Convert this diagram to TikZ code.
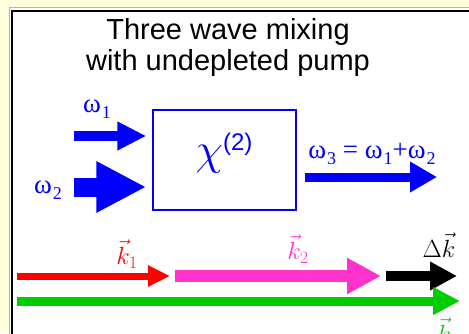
\documentclass[tikz,border=0pt]{standalone}
\usepackage{fontspec}
\setmainfont{Liberation Sans}
\newfontfamily\greekfont{Liberation Serif}
\usetikzlibrary{arrows.meta}

\definecolor{paleyellow}{RGB}{255,255,221}
\definecolor{pumpblue}{RGB}{0,0,255}
\definecolor{kred}{RGB}{255,0,0}
\definecolor{kpink}{RGB}{255,51,204}
\definecolor{kgreen}{RGB}{0,204,0}

\newcommand{\om}[1]{\greekfont ω\kern1pt\raisebox{-6pt}{\fontsize{18}{18}\selectfont #1}}
\newcommand{\titlesize}{\fontsize{29}{31}\selectfont}

\tikzset{
  beam/.style={line cap=butt},
  wlabel/.style={text=pumpblue, font=\fontsize{27}{28}\selectfont, inner sep=0pt},
  klabel/.style={font=\fontsize{24}{26}\selectfont, inner sep=0pt},
}

\begin{document}
\begin{tikzpicture}[x=1pt, y=-1pt]
  \useasboundingbox (0,0) rectangle (469,333);
  \clip (0,0) rectangle (469,333);
  \fill[paleyellow] (0,0) rectangle (469,333);
  \draw[gray!60, line width=1pt, fill=white] (9,7.5) rectangle (500,360);
  \draw[line width=2pt] (12,10.5) rectangle (500,360);
  % title
  \node[anchor=base, font=\titlesize] (title1) at (228,39) {Three wave mixing};
  \node[anchor=base, font=\titlesize] (title2) at (228,70) {with undepleted pump};
  % crystal
  \node[draw=pumpblue, line width=1.5pt, minimum width=143pt, minimum height=100pt, inner sep=0pt] (chi) at (224.5,160) {};
  \node[text=pumpblue, font=\fontsize{24}{26}\selectfont, inner sep=0pt] (chilbl) at (224,153)
    {\scalebox{1.8}{$\chi$}\raisebox{14pt}{(2)}};
  % input and output beams
  \coordinate (w1in) at (74,136);
  \coordinate (w2in) at (74,187);
  \coordinate (w3out) at (437,177);
  \draw[beam, pumpblue, line width=10pt, -{Triangle[length=29pt,width=27pt]}, shorten >=6pt] (w1in) -- (w1in -| chi.west);
  \draw[beam, pumpblue, line width=19pt, -{Triangle[length=50pt,width=48pt]}, shorten >=6pt] (w2in) -- (w2in -| chi.west);
  \draw[beam, pumpblue, line width=9pt, -{Triangle[length=27pt,width=29pt]}, shorten <=8pt] (w3out -| chi.east) -- (w3out);
  \node[wlabel] (w1lbl) at (97,109) {\om{1}};
  \node[wlabel] (w2lbl) at (48,190) {\om{2}};
  \node[wlabel] (w3lbl) at (372,154) {\om{3} = \om{1}+\om{2}};
  % wave vectors
  \coordinate (k1s) at (17,276);
  \coordinate (k1e) at (170,276);
  \coordinate (k2s) at (175,276);
  \coordinate (k2e) at (381,276);
  \coordinate (dks) at (386,276);
  \coordinate (dke) at (457,276);
  \coordinate (k3s) at (17,301);
  \coordinate (k3e) at (460,301);
  \draw[beam, kred, line width=7pt, -{Triangle[length=22pt,width=20pt]}] (k1s) -- (k1e);
  \draw[beam, kpink, line width=12pt, -{Triangle[length=34pt,width=34pt]}] (k2s) -- (k2e);
  \draw[beam, black, line width=10pt, -{Triangle[length=27pt,width=27pt]}] (dks) -- (dke);
  \draw[beam, kgreen, line width=9pt, -{Triangle[length=27pt,width=26pt]}] (k3s) -- (k3e);
  \node[klabel, text=kred] (k1lbl) at (127,254) {$\vec{k}_1$};
  \node[klabel, text=kpink] (k2lbl) at (298,249) {$\vec{k}_2$};
  \node[klabel, text=black] (dklbl) at (439,245) {$\Delta\vec{k}$};
  \node[klabel, text=kgreen] (k3lbl) at (448,332) {$\vec{k}_3$};
\end{tikzpicture}
\end{document}
